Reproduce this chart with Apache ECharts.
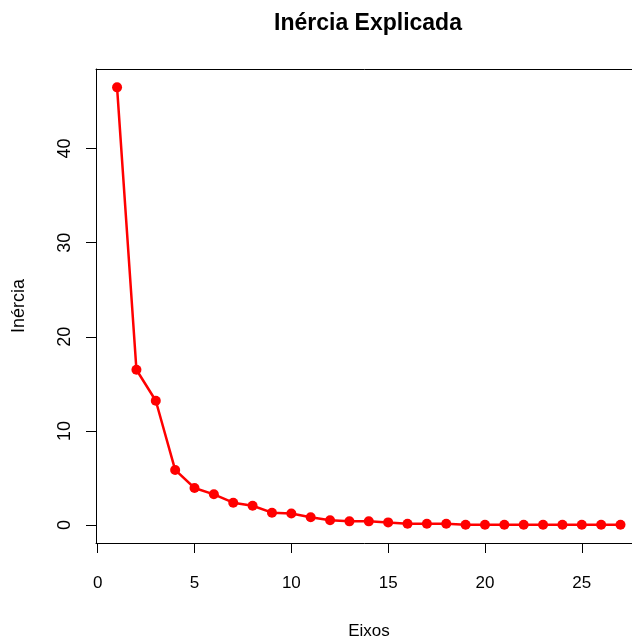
<!DOCTYPE html>
<html>
<head>
<meta charset="utf-8">
<script src="https://cdn.jsdelivr.net/npm/echarts@6/dist/echarts.min.js"></script>
<style>
  html, body { margin: 0; padding: 0; background: #fff; }
  #chart { width: 632px; height: 639px; }
</style>
</head>
<body>
<div id="chart"></div>
<script>
// eixos 1..27 e inércia
const eixos = [1, 2, 3, 4, 5, 6, 7, 8, 9, 10, 11, 12, 13, 14, 15, 16, 17, 18, 19, 20, 21, 22, 23, 24, 25, 26, 27]
const inercia = [46.5, 16.5, 13.2, 5.85, 3.93, 3.26, 2.37, 2.05, 1.31, 1.22, 0.82, 0.5, 0.39, 0.39, 0.28, 0.14, 0.14, 0.14, 0.03, 0.03, 0.03, 0.03, 0.03, 0.03, 0.03, 0.03, 0.03]
const xTicks = [0, 5, 10, 15, 20, 25]
const yTicks = [0, 10, 20, 30, 40]

const font = "'Liberation Sans', Arial, sans-serif"
const chart = echarts.init(document.getElementById("chart"))

const xMin = -0.088
const xMax = 28.11

chart.setOption({
	animation: false,
	title: {
		text: "Inércia Explicada",
		left: 363,
		top: 7,
		textAlign: "center",
		textStyle: { fontFamily: font, fontSize: 23, fontWeight: "bold", color: "#000" },
	},
	grid: {
		left: 96,
		top: 69,
		width: 546,
		height: 474,
		show: false,
		containLabel: false,
		outerBoundsMode: "none",
	},
	xAxis: [
		{
			type: "value",
			position: "bottom",
			min: xMin,
			max: xMax,
			name: "Eixos",
			nameLocation: "middle",
			nameGap: 80,
			nameTextStyle: { fontFamily: font, fontSize: 17, color: "#000" },
			axisLine: { show: true, onZero: false, lineStyle: { color: "#000", width: 1 } },
			axisTick: { show: true, length: 10, customValues: xTicks, lineStyle: { color: "#000" } },
			axisLabel: { customValues: xTicks, margin: 32, fontFamily: font, fontSize: 17, color: "#000" },
			splitLine: { show: false },
		},
		{
			// linha de cima da caixa
			type: "value",
			position: "top",
			min: xMin,
			max: xMax,
			axisLine: { show: true, onZero: false, lineStyle: { color: "#000", width: 1 } },
			axisTick: { show: false },
			axisLabel: { show: false },
			splitLine: { show: false },
		},
	],
	yAxis: {
		type: "value",
		min: -1.91,
		max: 48.45,
		name: "Inércia",
		nameLocation: "middle",
		nameGap: 68,
		nameTextStyle: { fontFamily: font, fontSize: 18, color: "#000" },
		axisLine: { show: true, onZero: false, lineStyle: { color: "#000", width: 1 } },
		axisTick: { show: true, length: 10, customValues: yTicks, lineStyle: { color: "#000" } },
		axisLabel: { customValues: yTicks, rotate: 90, margin: 22, fontFamily: font, fontSize: 18, color: "#000" },
		splitLine: { show: false },
	},
	series: [
		{
			type: "line",
			xAxisIndex: 0,
			data: eixos.map((e, i) => [e, inercia[i]]),
			color: "#ff0000",
			lineStyle: { color: "#ff0000", width: 2.5 },
			symbol: "circle",
			symbolSize: 10,
			itemStyle: { color: "#ff0000" },
			clip: false,
		},
	],
})
</script>
</body>
</html>
